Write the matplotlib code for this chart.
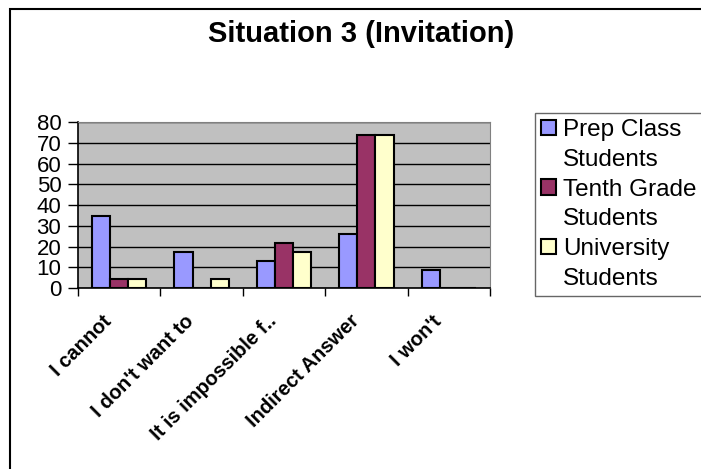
import numpy as np
from matplotlib import pyplot as plt
from matplotlib.patches import Rectangle
from matplotlib.transforms import ScaledTranslation

categories = ['I cannot', "I don't want to", 'It is impossible f..', 'Indirect Answer', "I won't"]
series_names = [('Prep Class', 'Students'), ('Tenth Grade', 'Students'), ('University', 'Students')]
prep = [34.8, 17.4, 13.0, 26.1, 8.7]
tenth = [4.3, 0.0, 21.7, 73.9, 0.0]
university = [4.3, 4.3, 17.4, 73.9, 0.0]
colors = ['#9999FF', '#993366', '#FFFFCC']

plt.rcParams['font.family'] = ['Liberation Sans', 'DejaVu Sans']

fig = plt.figure(figsize=(7.01, 4.69), dpi=100)
# chart border
fig.patches.append(Rectangle((9.5 / 701, -0.1), 1.2, 1 - 9.5 / 469 + 0.1, transform=fig.transFigure,
                             fill=False, edgecolor='black', linewidth=1.5))

ax = fig.add_axes([78 / 701, 1 - 288 / 469, (490 - 78) / 701, (288 - 122) / 469])
ax.set_facecolor('#C0C0C0')

x = np.arange(len(categories))
w = 0.22
bars = []
for i, vals in enumerate([prep, tenth, university]):
    b = ax.bar(x + (i - 1) * w, vals, width=w, color=colors[i], edgecolor='black', linewidth=1.5,
               zorder=3)
    bars.append(b)

ax.set_ylim(0, 80)
ax.set_yticks(range(0, 81, 10))
ax.set_xlim(-0.5, len(categories) - 0.5)
ax.yaxis.grid(True, color='black', linewidth=1, zorder=0)
ax.set_axisbelow(True)

ax.set_xticks(np.arange(len(categories) + 1) - 0.5)
ax.set_xticklabels([])
ax.set_xticks(x, minor=True)
ax.set_xticklabels(categories, minor=True, rotation=45, ha='right', va='top',
                   rotation_mode='anchor', fontsize=14.5, fontweight='bold')
ax.tick_params(axis='x', which='minor', length=0, pad=17)
ax.tick_params(axis='x', which='major', length=6, width=1, direction='out')
ax.tick_params(axis='y', length=7, width=1, labelsize=16, pad=5)
shift = ScaledTranslation(-17 / 100, 0, fig.dpi_scale_trans)
for lbl in ax.get_xticklabels(minor=True):
    lbl.set_transform(lbl.get_transform() + shift)

for s in ['top', 'right']:
    ax.spines[s].set_color('#808080')
for s in ['left', 'bottom']:
    ax.spines[s].set_color('black')
    ax.spines[s].set_linewidth(1.2)

fig.text(361 / 701, 1 - 34 / 469, 'Situation 3 (Invitation)', ha='center', va='center',
         fontsize=21, fontweight='bold')

# one legend row per text line, swatch only on the first line of each series
handles, labels = [], []
for b, (first, second) in zip(bars, series_names):
    handles += [b, Rectangle((0, 0), 1, 1, fill=False, edgecolor='none')]
    labels += [first, second]
leg = fig.legend(handles, labels, loc='upper left', bbox_to_anchor=(535 / 701, 1 - 113 / 469),
                 fontsize=17.5, frameon=True, fancybox=False, edgecolor='#404040',
                 handlelength=0.6, handleheight=0.6, handletextpad=0.3, borderpad=0.25,
                 labelspacing=0.32, borderaxespad=0)
leg.get_frame().set_linewidth(1)

fig.savefig('out.png', dpi=100)
